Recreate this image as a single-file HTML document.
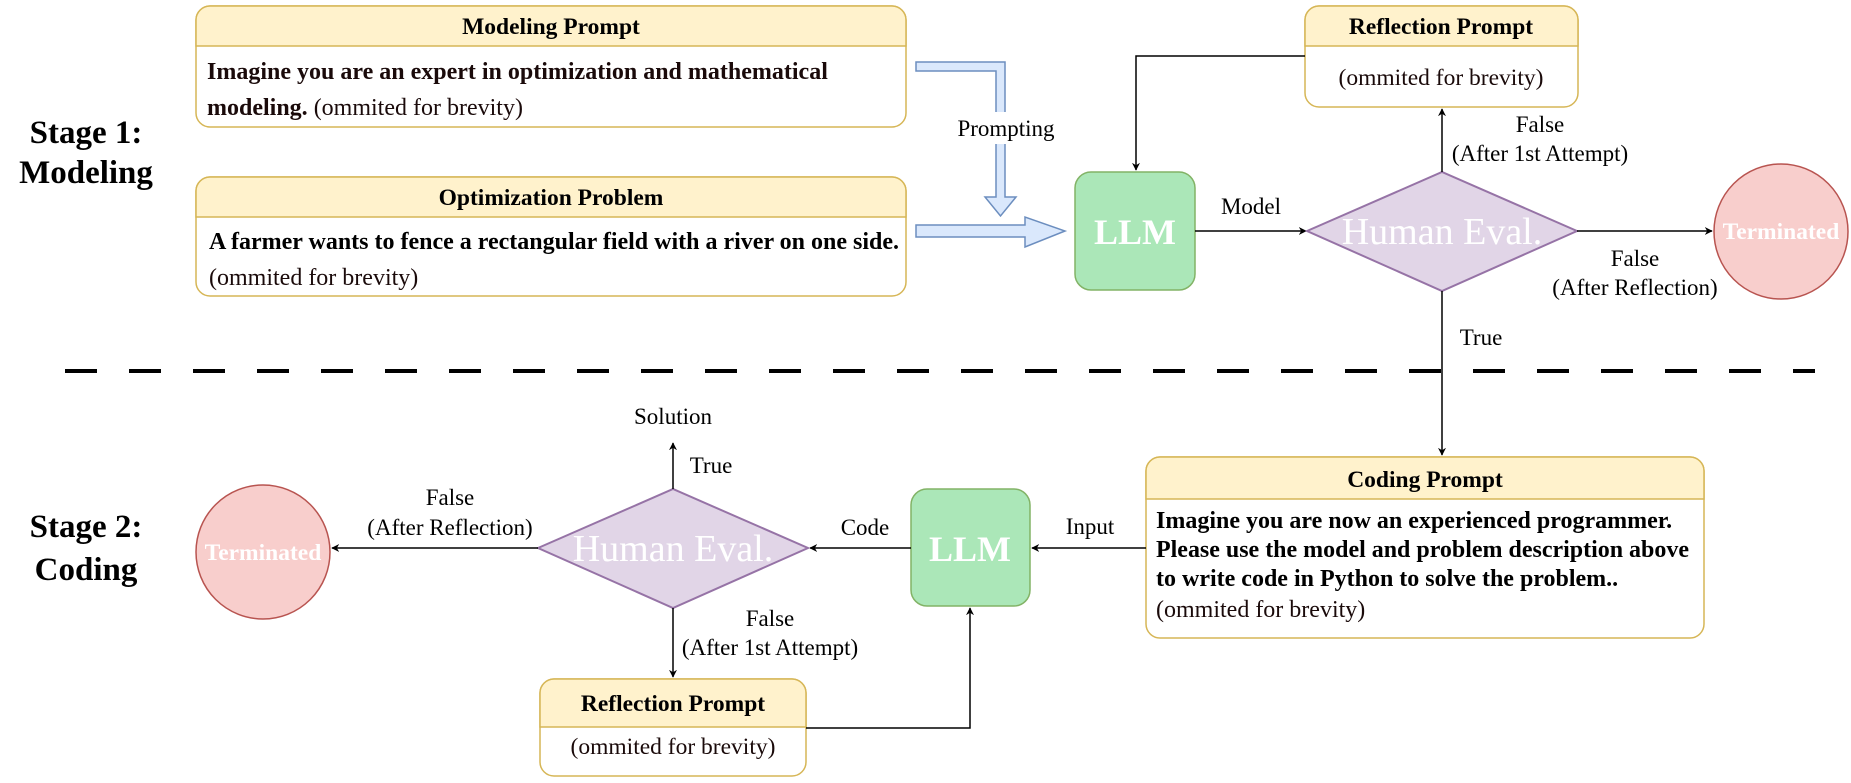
<!DOCTYPE html>
<html><head><meta charset="utf-8"><style>
html,body{margin:0;padding:0;background:#fff;}
svg, svg text{font-family:"Liberation Serif","Times New Roman",serif;}
</style></head><body>
<svg width="1851" height="778" viewBox="0 0 1851 778" xmlns="http://www.w3.org/2000/svg" font-family="Liberation Serif, serif">
<defs>
<marker id="ah" viewBox="0 0 10 10" refX="9" refY="5" markerWidth="8" markerHeight="8" orient="auto-start-reverse" markerUnits="userSpaceOnUse">
<path d="M0,0 L10,5 L0,10 L3,5 Z" fill="#000"/></marker>
</defs>

<g font-weight="bold" font-size="33" text-anchor="middle" fill="#000">
<text x="86" y="143">Stage 1:</text>
<text x="86" y="183">Modeling</text>
<text x="86" y="537">Stage 2:</text>
<text x="86" y="580">Coding</text>
</g>

<line x1="65" y1="371" x2="1815" y2="371" stroke="#000" stroke-width="4" stroke-dasharray="32,32"/>

<rect x="196" y="6" width="710" height="121" rx="14" fill="#fff" stroke="#d6b656" stroke-width="1.5"/>
<path d="M196,46 V20 a14,14 0 0 1 14,-14 H892 a14,14 0 0 1 14,14 V46 Z" fill="#fff2cc" stroke="#d6b656" stroke-width="1.5"/>
<text x="551" y="34" text-anchor="middle" font-weight="bold" font-size="23.5">Modeling Prompt</text>
<text x="207" y="79" font-size="24" fill="#1a0a0a"><tspan font-weight="bold">Imagine you are an expert in optimization and mathematical</tspan></text>
<text x="207" y="115" font-size="24" fill="#1a0a0a"><tspan font-weight="bold">modeling.</tspan>  (ommited for brevity)</text>

<rect x="196" y="177" width="710" height="119" rx="14" fill="#fff" stroke="#d6b656" stroke-width="1.5"/>
<path d="M196,217 V191 a14,14 0 0 1 14,-14 H892 a14,14 0 0 1 14,14 V217 Z" fill="#fff2cc" stroke="#d6b656" stroke-width="1.5"/>
<text x="551" y="205" text-anchor="middle" font-weight="bold" font-size="23.5">Optimization Problem</text>
<text x="209" y="249" font-size="24" font-weight="bold" fill="#000" textLength="690" lengthAdjust="spacingAndGlyphs">A farmer wants to fence a rectangular field with a river on one side.</text>
<text x="209" y="285" font-size="24" fill="#1a0a0a">(ommited for brevity)</text>

<path d="M916,62 H1005 V197 H1016 L1000.5,216 L985,197 H996 V71 H916 Z" fill="#dae8fc" stroke="#6c8ebf" stroke-width="1.5"/>
<rect x="950" y="112" width="102" height="32" fill="#fff"/>
<text x="1006" y="136" text-anchor="middle" font-size="23">Prompting</text>
<path d="M916,225 H1025 V217 L1065,231 L1025,247 V237 H916 Z" fill="#dae8fc" stroke="#6c8ebf" stroke-width="1.5"/>

<rect x="1075" y="172" width="120" height="118" rx="16" fill="#abe7b8" stroke="#82b366" stroke-width="1.5"/>
<text x="1135" y="244" text-anchor="middle" font-weight="bold" font-size="36" fill="#fff">LLM</text>

<line x1="1195" y1="231" x2="1306" y2="231" stroke="#000" stroke-width="1.5" marker-end="url(#ah)"/>
<text x="1251" y="214" text-anchor="middle" font-size="23">Model</text>

<polygon points="1307,231 1442,172 1577,231 1442,291" fill="#e1d5e7" stroke="#9673a6" stroke-width="2"/>
<text x="1442" y="244" text-anchor="middle" font-size="38" fill="#fff">Human Eval.</text>

<rect x="1305" y="6" width="273" height="101" rx="14" fill="#fff" stroke="#d6b656" stroke-width="1.5"/>
<path d="M1305,46 V20 a14,14 0 0 1 14,-14 H1564 a14,14 0 0 1 14,14 V46 Z" fill="#fff2cc" stroke="#d6b656" stroke-width="1.5"/>
<text x="1441" y="34" text-anchor="middle" font-weight="bold" font-size="23.5">Reflection Prompt</text>
<text x="1441" y="85" text-anchor="middle" font-size="23.5" fill="#1a0a0a">(ommited for brevity)</text>

<path d="M1305,56 H1136 V170" fill="none" stroke="#000" stroke-width="1.5" marker-end="url(#ah)"/>
<line x1="1442" y1="172" x2="1442" y2="109" stroke="#000" stroke-width="1.5" marker-end="url(#ah)"/>
<text x="1540" y="132" text-anchor="middle" font-size="23">False</text>
<text x="1540" y="161" text-anchor="middle" font-size="23">(After 1st Attempt)</text>

<line x1="1577" y1="231" x2="1712" y2="231" stroke="#000" stroke-width="1.5" marker-end="url(#ah)"/>
<text x="1635" y="266" text-anchor="middle" font-size="23">False</text>
<text x="1635" y="295" text-anchor="middle" font-size="23">(After Reflection)</text>

<ellipse cx="1781" cy="231.5" rx="67" ry="67.5" fill="#f8cecc" stroke="#b85450" stroke-width="1.5"/>
<text x="1781" y="239" text-anchor="middle" font-weight="bold" font-size="23.5" fill="#fff">Terminated</text>

<line x1="1442" y1="291" x2="1442" y2="455" stroke="#000" stroke-width="1.5" marker-end="url(#ah)"/>
<rect x="1458" y="320" width="46" height="30" fill="#fff"/>
<text x="1481" y="345" text-anchor="middle" font-size="23">True</text>

<rect x="1146" y="457" width="558" height="181" rx="14" fill="#fff" stroke="#d6b656" stroke-width="1.5"/>
<path d="M1146,499 V471 a14,14 0 0 1 14,-14 H1690 a14,14 0 0 1 14,14 V499 Z" fill="#fff2cc" stroke="#d6b656" stroke-width="1.5"/>
<text x="1425" y="487" text-anchor="middle" font-weight="bold" font-size="23.5">Coding Prompt</text>
<g font-size="24" font-weight="bold" fill="#000">
<text x="1156" y="528">Imagine you are now an experienced programmer.</text>
<text x="1156" y="557" textLength="533" lengthAdjust="spacingAndGlyphs">Please use the model and problem description above</text>
<text x="1156" y="586">to write code in Python to solve the problem..</text>
</g>
<text x="1156" y="617" font-size="24" fill="#1a0a0a">(ommited for brevity)</text>

<line x1="1146" y1="548" x2="1032" y2="548" stroke="#000" stroke-width="1.5" marker-end="url(#ah)"/>
<text x="1090" y="534" text-anchor="middle" font-size="23">Input</text>

<rect x="911" y="489" width="119" height="117" rx="16" fill="#abe7b8" stroke="#82b366" stroke-width="1.5"/>
<text x="970" y="561" text-anchor="middle" font-weight="bold" font-size="36" fill="#fff">LLM</text>

<line x1="911" y1="548" x2="810" y2="548" stroke="#000" stroke-width="1.5" marker-end="url(#ah)"/>
<text x="865" y="535" text-anchor="middle" font-size="23">Code</text>

<polygon points="538,548 673,489 808,548 673,608" fill="#e1d5e7" stroke="#9673a6" stroke-width="2"/>
<text x="673" y="561" text-anchor="middle" font-size="38" fill="#fff">Human Eval.</text>

<line x1="673" y1="489" x2="673" y2="443" stroke="#000" stroke-width="1.5" marker-end="url(#ah)"/>
<text x="673" y="424" text-anchor="middle" font-size="23">Solution</text>
<text x="711" y="473" text-anchor="middle" font-size="23">True</text>

<line x1="538" y1="548" x2="332" y2="548" stroke="#000" stroke-width="1.5" marker-end="url(#ah)"/>
<text x="450" y="505" text-anchor="middle" font-size="23">False</text>
<text x="450" y="535" text-anchor="middle" font-size="23">(After Reflection)</text>

<ellipse cx="263" cy="552" rx="67" ry="67" fill="#f8cecc" stroke="#b85450" stroke-width="1.5"/>
<text x="263" y="560" text-anchor="middle" font-weight="bold" font-size="23.5" fill="#fff">Terminated</text>

<line x1="673" y1="608" x2="673" y2="677" stroke="#000" stroke-width="1.5" marker-end="url(#ah)"/>
<text x="770" y="626" text-anchor="middle" font-size="23">False</text>
<text x="770" y="655" text-anchor="middle" font-size="23">(After 1st Attempt)</text>

<rect x="540" y="679" width="266" height="97" rx="14" fill="#fff" stroke="#d6b656" stroke-width="1.5"/>
<path d="M540,727 V693 a14,14 0 0 1 14,-14 H792 a14,14 0 0 1 14,14 V727 Z" fill="#fff2cc" stroke="#d6b656" stroke-width="1.5"/>
<text x="673" y="711" text-anchor="middle" font-weight="bold" font-size="23.5">Reflection Prompt</text>
<text x="673" y="754" text-anchor="middle" font-size="23.5" fill="#1a0a0a">(ommited for brevity)</text>

<path d="M806,728 H970 V608" fill="none" stroke="#000" stroke-width="1.5" marker-end="url(#ah)"/>
</svg>
</body></html>
